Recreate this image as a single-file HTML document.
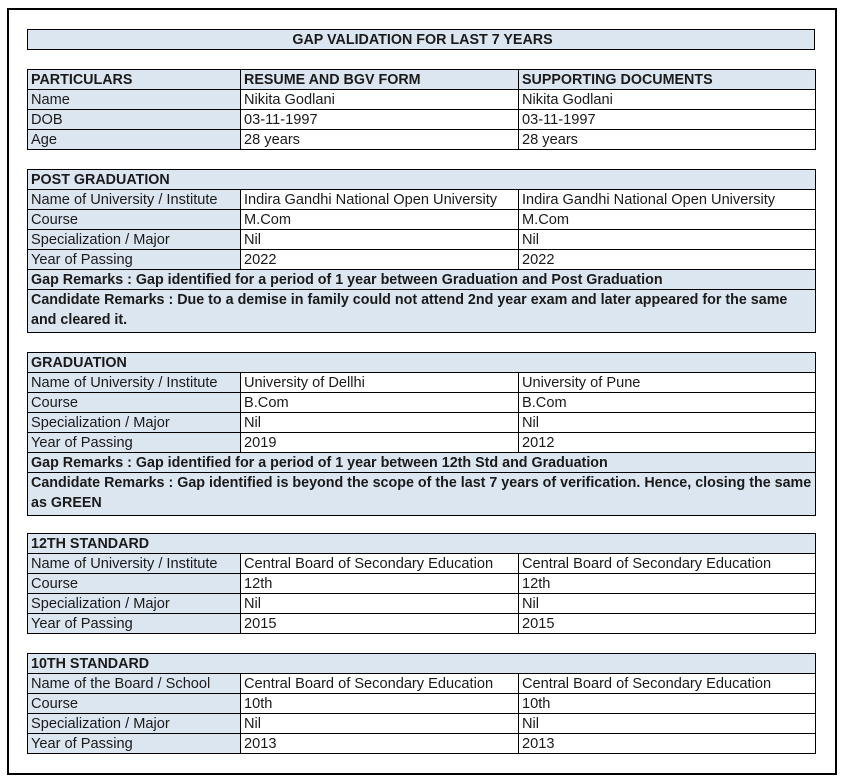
<!DOCTYPE html>
<html><head><meta charset="utf-8"><style>
body{margin:0;width:847px;height:782px;background:#fff;position:relative;font-family:"Liberation Sans",sans-serif;font-size:14.6px;color:#1a1a1a;overflow:hidden}
.outer{position:absolute;left:7px;top:8px;width:826px;height:763px;border:2px solid #000}
table{position:absolute;left:27px;border-collapse:collapse;table-layout:fixed;width:788px}
td{border:1px solid #000;height:19px;padding:0 0 0 3px;line-height:18px;white-space:nowrap;overflow:hidden;vertical-align:middle}
.b{background:#dce6f1}
.h{font-weight:bold;font-size:14.3px}
.w{line-height:20px;padding-top:0;padding-bottom:1px;vertical-align:top}
</style></head><body>
<div class="outer"></div>
<table style="top:29px"><tr><td class="b h" style="text-align:center;height:19px">GAP VALIDATION FOR LAST 7 YEARS</td></tr></table>

<table style="top:69px"><colgroup><col style="width:213px"><col style="width:278px"><col style="width:297px"></colgroup>
<tr><td class="b h">PARTICULARS</td><td class="b h">RESUME AND BGV FORM</td><td class="b h">SUPPORTING DOCUMENTS</td></tr>
<tr><td class="b">Name</td><td>Nikita Godlani</td><td>Nikita Godlani</td></tr>
<tr><td class="b">DOB</td><td>03-11-1997</td><td>03-11-1997</td></tr>
<tr><td class="b">Age</td><td>28 years</td><td>28 years</td></tr>
</table>

<table style="top:169px"><colgroup><col style="width:213px"><col style="width:278px"><col style="width:297px"></colgroup>
<tr><td class="b h" colspan="3">POST GRADUATION</td></tr>
<tr><td class="b">Name of University / Institute</td><td>Indira Gandhi National Open University</td><td>Indira Gandhi National Open University</td></tr>
<tr><td class="b">Course</td><td>M.Com</td><td>M.Com</td></tr>
<tr><td class="b">Specialization / Major</td><td>Nil</td><td>Nil</td></tr>
<tr><td class="b">Year of Passing</td><td>2022</td><td>2022</td></tr>
<tr><td class="b h" colspan="3">Gap Remarks : Gap identified for a period of 1 year between Graduation and Post Graduation</td></tr>
<tr><td class="b h w" colspan="3" style="height:41px">Candidate Remarks : Due to a demise in family could not attend 2nd year exam and later appeared for the same<br>and cleared it.</td></tr>
</table>

<table style="top:352px"><colgroup><col style="width:213px"><col style="width:278px"><col style="width:297px"></colgroup>
<tr><td class="b h" colspan="3">GRADUATION</td></tr>
<tr><td class="b">Name of University / Institute</td><td>University of Dellhi</td><td>University of Pune</td></tr>
<tr><td class="b">Course</td><td>B.Com</td><td>B.Com</td></tr>
<tr><td class="b">Specialization / Major</td><td>Nil</td><td>Nil</td></tr>
<tr><td class="b">Year of Passing</td><td>2019</td><td>2012</td></tr>
<tr><td class="b h" colspan="3">Gap Remarks : Gap identified for a period of 1 year between 12th Std and Graduation</td></tr>
<tr><td class="b h w" colspan="3" style="height:41px">Candidate Remarks : Gap identified is beyond the scope of the last 7 years of verification. Hence, closing the same<br>as GREEN</td></tr>
</table>

<table style="top:533px"><colgroup><col style="width:213px"><col style="width:278px"><col style="width:297px"></colgroup>
<tr><td class="b h" colspan="3">12TH STANDARD</td></tr>
<tr><td class="b">Name of University / Institute</td><td>Central Board of Secondary Education</td><td>Central Board of Secondary Education</td></tr>
<tr><td class="b">Course</td><td>12th</td><td>12th</td></tr>
<tr><td class="b">Specialization / Major</td><td>Nil</td><td>Nil</td></tr>
<tr><td class="b">Year of Passing</td><td>2015</td><td>2015</td></tr>
</table>

<table style="top:653px"><colgroup><col style="width:213px"><col style="width:278px"><col style="width:297px"></colgroup>
<tr><td class="b h" colspan="3">10TH STANDARD</td></tr>
<tr><td class="b">Name of the Board / School</td><td>Central Board of Secondary Education</td><td>Central Board of Secondary Education</td></tr>
<tr><td class="b">Course</td><td>10th</td><td>10th</td></tr>
<tr><td class="b">Specialization / Major</td><td>Nil</td><td>Nil</td></tr>
<tr><td class="b">Year of Passing</td><td>2013</td><td>2013</td></tr>
</table>
</body></html>
